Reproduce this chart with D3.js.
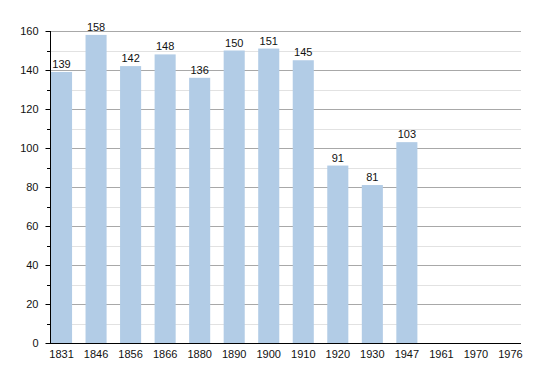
<!DOCTYPE html>
<html>
<head>
<meta charset="utf-8">
<script src="https://cdn.jsdelivr.net/npm/d3@7"></script>
<style>
  body { margin: 0; background: #fff; }
  text { font-family: "Liberation Sans", Arial, sans-serif; font-size: 11px; fill: #111; }
</style>
</head>
<body>
<div id="chart"></div>
<script>
var years = ["1831", "1846", "1856", "1866", "1880", "1890", "1900", "1910", "1920", "1930", "1947", "1961", "1970", "1976"];
var population = [139, 158, 142, 148, 136, 150, 151, 145, 91, 81, 103, null, null, null];
var yTicks = [0, 20, 40, 60, 80, 100, 120, 140, 160];

var svgWidth = 550;
var svgHeight = 373;

var plotLeft = 50, plotRight = 521, plotTop = 31, plotBottom = 343;

var svg = d3.select("#chart")
  .append("svg")
  .attr("width", svgWidth)
  .attr("height", svgHeight);

var data = years.map(function(yr, i) { return { year: yr, value: population[i] }; });

var x = d3.scaleBand()
  .domain(years)
  .range([plotLeft + 1, plotRight])
  .paddingInner(0.39)
  .paddingOuter(0)
  .align(0);

var y = d3.scaleLinear()
  .domain([0, 160])
  .range([plotBottom, plotTop]);

// minor gridlines every 10
var minor = d3.range(10, 160, 20);
svg.append("g").selectAll("line")
  .data(minor)
  .enter()
  .append("line")
  .attr("x1", plotLeft)
  .attr("x2", plotRight)
  .attr("y1", d => Math.round(y(d)) + 0.5)
  .attr("y2", d => Math.round(y(d)) + 0.5)
  .attr("stroke", "#e2e2e2");

// major gridlines
svg.append("g").selectAll("line")
  .data(yTicks.slice(1))
  .enter()
  .append("line")
  .attr("x1", plotLeft)
  .attr("x2", plotRight)
  .attr("y1", d => Math.round(y(d)) + 0.5)
  .attr("y2", d => Math.round(y(d)) + 0.5)
  .attr("stroke", "#a8a8a8");

// soft edge filter for bars
var defs = svg.append("defs");
defs.append("filter")
  .attr("id", "soft")
  .append("feGaussianBlur")
  .attr("stdDeviation", 0.6);

var bars = data.filter(d => d.value !== null);

svg.append("g").selectAll("rect")
  .data(bars)
  .enter()
  .append("rect")
  .attr("x", d => x(d.year))
  .attr("y", d => y(d.value))
  .attr("width", x.bandwidth())
  .attr("height", d => plotBottom - y(d.value))
  .attr("fill", "#b2cce6")
  .attr("filter", "url(#soft)");

svg.append("g").selectAll("text")
  .data(bars)
  .enter()
  .append("text")
  .attr("x", d => x(d.year) + x.bandwidth() / 2)
  .attr("y", d => y(d.value) - 4)
  .attr("text-anchor", "middle")
  .text(d => d.value);

// y axis
var yAxis = d3.axisLeft(y)
  .tickValues(yTicks)
  .tickSize(5)
  .tickPadding(7);

var yg = svg.append("g")
  .attr("transform", `translate(${plotLeft + 0.5},0)`)
  .call(yAxis);
yg.select(".domain").attr("stroke", "#000").attr("d", `M0,${plotTop}V${plotBottom}`);
yg.selectAll(".tick line").attr("stroke", "#000");
yg.selectAll(".tick text").style("font-size", "11px").attr("fill", "#111");

// minor ticks on y axis
svg.append("g").selectAll("line")
  .data(minor)
  .enter()
  .append("line")
  .attr("x1", plotLeft - 3)
  .attr("x2", plotLeft)
  .attr("y1", d => Math.round(y(d)) + 0.5)
  .attr("y2", d => Math.round(y(d)) + 0.5)
  .attr("stroke", "#000");

// x axis
var xAxis = d3.axisBottom(x)
  .tickSize(0)
  .tickPadding(7);

var xg = svg.append("g")
  .attr("transform", `translate(0,${plotBottom + 0.5})`)
  .call(xAxis);
xg.select(".domain").attr("stroke", "#000").attr("d", `M${plotLeft},0H${plotRight}`);
xg.selectAll(".tick text").style("font-size", "11px").attr("fill", "#111");
</script>
</body>
</html>
